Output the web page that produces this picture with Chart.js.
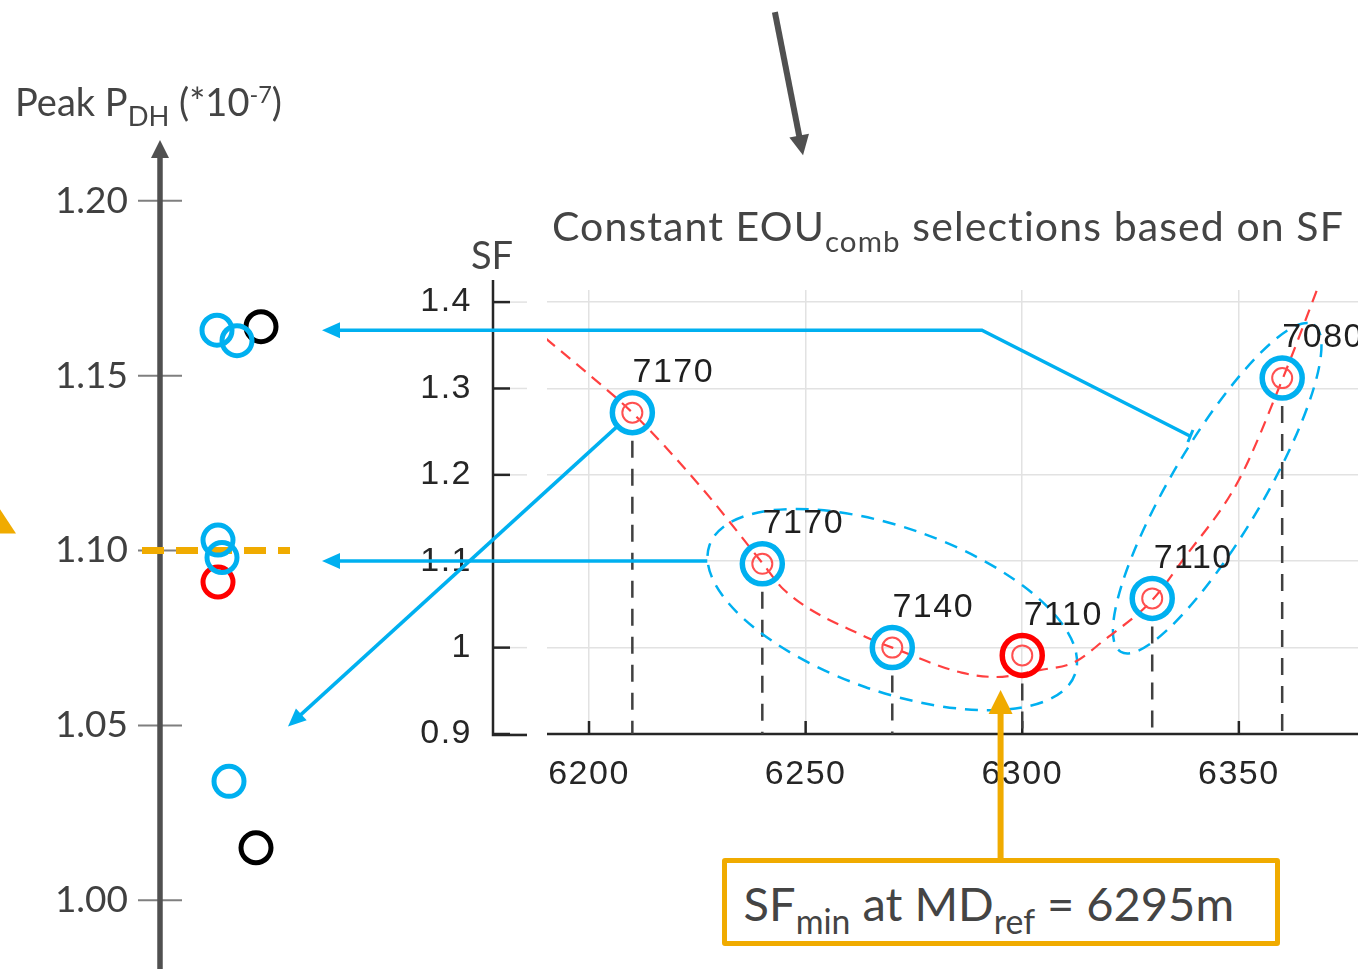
<!DOCTYPE html>
<html>
<head>
<meta charset="utf-8">
<script src="https://cdn.jsdelivr.net/npm/chart.js@4/dist/chart.umd.min.js"></script>
<style>
  html, body { margin: 0; padding: 0; background: #fff; overflow: hidden; }
  #wrap { position: relative; width: 1358px; height: 969px; }
  canvas { position: absolute; left: 0; top: 0; }
  .txt { position: absolute; font-family: Lato, "Open Sans", sans-serif; color: #444; white-space: nowrap; line-height: 1; z-index: 3; }
  .txt sub { font-size: 0.72em; vertical-align: -0.38em; line-height: 0; }
  .txt sup { font-size: 0.62em; vertical-align: 0.55em; line-height: 0; }
  #mdBox { position: absolute; top: 858px; width: 558px; height: 88px; box-sizing: border-box;
           border: 5px solid #f0ab00; border-radius: 3px; background: #fff; z-index: 3;
           font-family: Lato, "Open Sans", sans-serif; color: #444; font-size: 47px; line-height: 1;
           padding: 17px 0 0 17px; white-space: nowrap; }
  #mdBox sub { font-size: 0.72em; vertical-align: -0.38em; line-height: 0; }
</style>
</head>
<body>
<div id="wrap">
  <canvas id="pdhChart" width="1358" height="969"></canvas>
  <canvas id="sfChart" width="1358" height="969"></canvas>
  <div class="txt" style="left:15px; top:82px; font-size:38px;">Peak P<sub>DH</sub> (*10<sup>-7</sup>)</div>
  <div class="txt" style="left:552px; top:205px; font-size:41px; letter-spacing:1.1px;">Constant EOU<sub>comb</sub> selections based on SF</div>
  <div class="txt" style="left:471px; top:235px; font-size:38px;">SF</div>
  <div id="mdBox">SF<sub>min</sub> at MD<sub>ref</sub> = 6295m</div>
</div>
<script>
// ---- left axis: peak P_DH (*1e-7) of the runs ----
const pdhTicks = [1.00, 1.05, 1.10, 1.15, 1.20];
const blueX = [5.7, 7.7, 5.8, 6.2, 6.9];
const blueY = [1.163, 1.160, 1.103, 1.098, 1.034];
const redX = [5.8];
const redY = [1.091];
const blackX = [10.1, 9.6];
const blackY = [1.164, 1.015];
const pdhRef = 1.10;

// ---- inset: SF against MD ----
const mdTicks = [6200, 6250, 6300, 6350];
const sfTicks = [0.9, 1, 1.1, 1.2, 1.3, 1.4];
const mdPoints = [6210, 6240, 6270, 6300, 6330, 6360];
const sfPoints = [1.272, 1.097, 1.000, 0.991, 1.057, 1.312];
const eouLabels = ['7170', '7170', '7140', '7110', '7110', '7080'];
const fitMd = [6190, 6200, 6210, 6226, 6240, 6245, 6264, 6270, 6286, 6294, 6304, 6312, 6319, 6330, 6337, 6350, 6360, 6370];
const fitSf = [1.358, 1.316, 1.272, 1.185, 1.098, 1.067, 1.012, 1.000, 0.971, 0.966, 0.974, 0.983, 1.009, 1.055, 1.101, 1.194, 1.310, 1.440];
const mdRef = 6295;

const BLUE = '#00b0f0', ORANGE = '#f0ab00', RED = '#ff0000', GREY = '#505050';
const minIdx = sfPoints.indexOf(Math.min(...sfPoints));

// groups of selections circled in the inset
const groups = [
  { first: 1, last: 3, pad: 56, minor: 82 },
  { first: 4, last: 5, pad: 62, minor: 46 }
];

Chart.defaults.font.family = '"Liberation Sans", Arial, sans-serif';

function arrow(ctx, pts, color, width, headLen, headHalf) {
  const n = pts.length;
  const [tx, ty] = pts[n - 1];
  const [px, py] = pts[n - 2];
  const ang = Math.atan2(ty - py, tx - px);
  const bx = tx - headLen * Math.cos(ang), by = ty - headLen * Math.sin(ang);
  ctx.save();
  ctx.strokeStyle = color; ctx.fillStyle = color; ctx.lineWidth = width;
  ctx.beginPath();
  ctx.moveTo(pts[0][0], pts[0][1]);
  for (let i = 1; i < n - 1; i++) ctx.lineTo(pts[i][0], pts[i][1]);
  ctx.lineTo(bx + 2 * Math.cos(ang), by + 2 * Math.sin(ang));
  ctx.stroke();
  ctx.beginPath();
  ctx.moveTo(tx, ty);
  ctx.lineTo(bx + headHalf * Math.sin(ang), by - headHalf * Math.cos(ang));
  ctx.lineTo(bx - headHalf * Math.sin(ang), by + headHalf * Math.cos(ang));
  ctx.closePath();
  ctx.fill();
  ctx.restore();
}

// axis with arrow + ticks on both sides for the left chart
const pdhAxis = {
  id: 'pdhAxis',
  beforeDatasetsDraw(chart) {
    const { ctx, chartArea, scales: { x, y } } = chart;
    ctx.save();
    ctx.strokeStyle = '#7f7f7f'; ctx.lineWidth = 2;
    pdhTicks.forEach(v => {
      const py = y.getPixelForValue(v);
      ctx.beginPath(); ctx.moveTo(chartArea.left - 22, py); ctx.lineTo(chartArea.left + 22, py); ctx.stroke();
    });
    ctx.restore();
    arrow(ctx, [[chartArea.left, chart.height], [chartArea.left, chartArea.top]], GREY, 5.5, 18, 9);
    // clipped orange arrowhead at the left border
    ctx.save();
    ctx.fillStyle = ORANGE;
    ctx.beginPath();
    ctx.moveTo(x.getPixelForValue(-16), y.getPixelForValue(1.1118));
    ctx.lineTo(x.getPixelForValue(-14.4), y.getPixelForValue(1.1049));
    ctx.lineTo(x.getPixelForValue(-16), y.getPixelForValue(1.1049));
    ctx.closePath(); ctx.fill();
    ctx.restore();
  }
};

const ring = (color) => ({ pointRadius: 15, pointBorderWidth: 5, pointBorderColor: color, pointBackgroundColor: 'rgba(0,0,0,0)', showLine: false });
const pts = (xs, ys) => xs.map((v, i) => ({ x: v, y: ys[i] }));

const pdhChart = new Chart(document.getElementById('pdhChart'), {
  type: 'scatter',
  data: {
    datasets: [
      { type: 'line', data: [{ x: -1.8, y: pdhRef }, { x: 13, y: pdhRef }], borderColor: ORANGE, borderWidth: 7,
        borderDash: [22, 12], pointRadius: 0, clip: false, order: 5 },
      Object.assign({ data: pts(blueX, blueY), order: 1 }, ring(BLUE)),
      Object.assign({ data: pts(redX, redY), order: 1 }, ring(RED)),
      Object.assign({ data: pts(blackX, blackY), order: 1 }, ring('#000'))
    ]
  },
  options: {
    responsive: false, animation: false, devicePixelRatio: 1,
    layout: { autoPadding: false, padding: { left: 0, top: 140, right: 1058, bottom: 0 } },
    plugins: { legend: { display: false }, tooltip: { enabled: false } },
    scales: {
      x: { type: 'linear', display: false, min: 0, max: 14 },
      y: {
        min: 0.9806, max: 1.2174,
        afterFit(s) { s.width = 160; },
        afterBuildTicks(s) { s.ticks = pdhTicks.map(v => ({ value: v })); },
        grid: { drawOnChartArea: false, drawTicks: true, tickLength: 32, tickColor: 'rgba(0,0,0,0)' },
        border: { display: false },
        ticks: { padding: 0, autoSkip: false, color: '#404040', font: { family: 'Lato', size: 37, lineHeight: 0.05 },
                 callback: v => v.toFixed(2) }
      }
    }
  },
  plugins: [pdhAxis]
});

// inset decorations: broken axes, drop lines, group ellipses, labels, arrows
const sfDeco = {
  id: 'sfDeco',
  beforeDraw(chart) { chart.ctx.letterSpacing = '1.5px'; },
  beforeDatasetsDraw(chart) {
    const { ctx, chartArea: ca, scales: { x, y } } = chart;
    const ax = ca.left - 54;
    ctx.save();
    ctx.strokeStyle = '#e2e2e2'; ctx.lineWidth = 1.5;
    sfTicks.forEach(v => {
      const py = y.getPixelForValue(v);
      ctx.beginPath(); ctx.moveTo(ax + 17, py); ctx.lineTo(ca.left - 20, py); ctx.stroke();
    });
    ctx.strokeStyle = '#262626'; ctx.lineWidth = 2.5;
    ctx.beginPath();
    ctx.moveTo(ax, ca.top - 10); ctx.lineTo(ax, ca.bottom + 1); ctx.lineTo(ca.left - 20, ca.bottom + 1);
    ctx.stroke();
    sfTicks.forEach(v => {
      const py = y.getPixelForValue(v);
      ctx.beginPath(); ctx.moveTo(ax, py); ctx.lineTo(ax + 17, py); ctx.stroke();
    });
    ctx.beginPath(); ctx.moveTo(ca.left, ca.bottom); ctx.lineTo(ca.right, ca.bottom); ctx.stroke();
    mdTicks.forEach(v => {
      const px = x.getPixelForValue(v);
      ctx.beginPath(); ctx.moveTo(px, ca.bottom); ctx.lineTo(px, ca.bottom - 13); ctx.stroke();
    });
    // drop lines
    ctx.strokeStyle = '#404040'; ctx.lineWidth = 2.5; ctx.setLineDash([17, 11]);
    mdPoints.forEach((m, i) => {
      const px = x.getPixelForValue(m), py = y.getPixelForValue(sfPoints[i]);
      ctx.beginPath(); ctx.moveTo(px, py + 28); ctx.lineTo(px, ca.bottom); ctx.stroke();
    });
    // ellipses
    ctx.strokeStyle = BLUE; ctx.lineWidth = 2.5; ctx.setLineDash([13, 9]);
    groups.forEach(g => {
      const x1 = x.getPixelForValue(mdPoints[g.first]), y1 = y.getPixelForValue(sfPoints[g.first]);
      const x2 = x.getPixelForValue(mdPoints[g.last]), y2 = y.getPixelForValue(sfPoints[g.last]);
      const semi = Math.hypot(x2 - x1, y2 - y1) / 2 + g.pad;
      ctx.beginPath();
      ctx.ellipse((x1 + x2) / 2, (y1 + y2) / 2, semi, g.minor, Math.atan2(y2 - y1, x2 - x1), 0, Math.PI * 2);
      ctx.stroke();
    });
    ctx.restore();
  },
  afterDatasetsDraw(chart) {
    const { ctx, scales: { x, y } } = chart;
    const lx = pdhChart.scales.x, ly = pdhChart.scales.y;
    ctx.save();
    ctx.fillStyle = '#1f1f1f';
    ctx.font = '34px "Liberation Sans", Arial, sans-serif';
    ctx.textAlign = 'center'; ctx.textBaseline = 'middle';
    mdPoints.forEach((m, i) => {
      ctx.fillText(eouLabels[i], x.getPixelForValue(m) + 41, y.getPixelForValue(sfPoints[i]) - 40);
    });
    ctx.restore();

    // arrows towards the peak P_DH axis
    const t1y = ly.getPixelForValue(1.163);
    const s1 = [x.getPixelForValue(6338.7), y.getPixelForValue(1.245)];
    arrow(ctx, [s1, [x.getPixelForValue(6290.7), t1y], [lx.getPixelForValue(16.2), t1y]], BLUE, 3.5, 18, 8);
    ctx.save(); ctx.strokeStyle = BLUE; ctx.lineWidth = 3;
    ctx.beginPath(); ctx.moveTo(s1[0] - 2, s1[1] + 6); ctx.lineTo(s1[0] + 3, s1[1] - 6); ctx.stroke(); ctx.restore();

    const t2y = ly.getPixelForValue(1.097);
    arrow(ctx, [[x.getPixelForValue(6227.3), t2y], [lx.getPixelForValue(16.2), t2y]], BLUE, 3.5, 18, 8);

    const p0 = [x.getPixelForValue(mdPoints[0]), y.getPixelForValue(sfPoints[0])];
    const t3 = [lx.getPixelForValue(12.8), ly.getPixelForValue(1.0497)];
    const d = Math.hypot(t3[0] - p0[0], t3[1] - p0[1]);
    const st = [p0[0] + 20 * (t3[0] - p0[0]) / d, p0[1] + 20 * (t3[1] - p0[1]) / d];
    arrow(ctx, [st, t3], BLUE, 3.5, 18, 8);

    // orange pointer from the MD_ref box
    const box = document.getElementById('mdBox');
    const rx = x.getPixelForValue(mdRef);
    arrow(ctx, [[rx, box.offsetTop], [rx, y.getPixelForValue(0.951)]], ORANGE, 6, 24, 12);

    // grey pointer at the top
    arrow(ctx, [[x.getPixelForValue(6242.9), y.getPixelForValue(1.7356)], [x.getPixelForValue(6249.4), y.getPixelForValue(1.570)]], GREY, 6, 20, 10);
  }
};

const sfChart = new Chart(document.getElementById('sfChart'), {
  type: 'scatter',
  data: {
    datasets: [
      { type: 'line', data: pts(fitMd, fitSf), borderColor: '#ff4040', borderWidth: 2.2, borderDash: [12, 8],
        pointRadius: 0, tension: 0.4, cubicInterpolationMode: 'monotone', order: 3 },
      { data: pts(mdPoints, sfPoints), pointRadius: 10, pointBorderWidth: 2, pointBorderColor: '#ff5050',
        pointBackgroundColor: 'rgba(0,0,0,0)', showLine: false, order: 2 },
      { data: pts(mdPoints, sfPoints), pointRadius: 20, pointBorderWidth: 5.5,
        pointBorderColor: c => c.dataIndex === minIdx ? RED : BLUE,
        pointBackgroundColor: 'rgba(0,0,0,0)', showLine: false, order: 1 }
    ]
  },
  options: {
    responsive: false, animation: false, devicePixelRatio: 1,
    layout: { autoPadding: false, padding: { left: 0, top: 290, right: 0, bottom: 175 } },
    plugins: { legend: { display: false }, tooltip: { enabled: false } },
    scales: {
      x: {
        type: 'linear', min: 6190.3, max: 6377.5,
        afterFit(s) { s.height = 60; },
        afterBuildTicks(s) { s.ticks = mdTicks.map(v => ({ value: v })); },
        grid: { color: '#e2e2e2', lineWidth: 1.5, drawTicks: false },
        border: { display: false },
        ticks: { padding: 20, autoSkip: false, maxRotation: 0, color: '#262626', font: { size: 34 },
                 callback: v => String(v) }
      },
      y: {
        min: 0.9, max: 1.414,
        afterFit(s) { s.width = 547; },
        afterBuildTicks(s) { s.ticks = sfTicks.map(v => ({ value: v })); },
        grid: { color: '#e2e2e2', lineWidth: 1.5, drawTicks: false },
        border: { display: false },
        ticks: { padding: 75, autoSkip: false, color: '#262626', font: { size: 34 }, callback: v => String(v) }
      }
    }
  },
  plugins: [sfDeco]
});

const box = document.getElementById('mdBox');
box.style.left = (sfChart.scales.x.getPixelForValue(mdRef) - box.offsetWidth / 2) + 'px';
</script>
</body>
</html>
